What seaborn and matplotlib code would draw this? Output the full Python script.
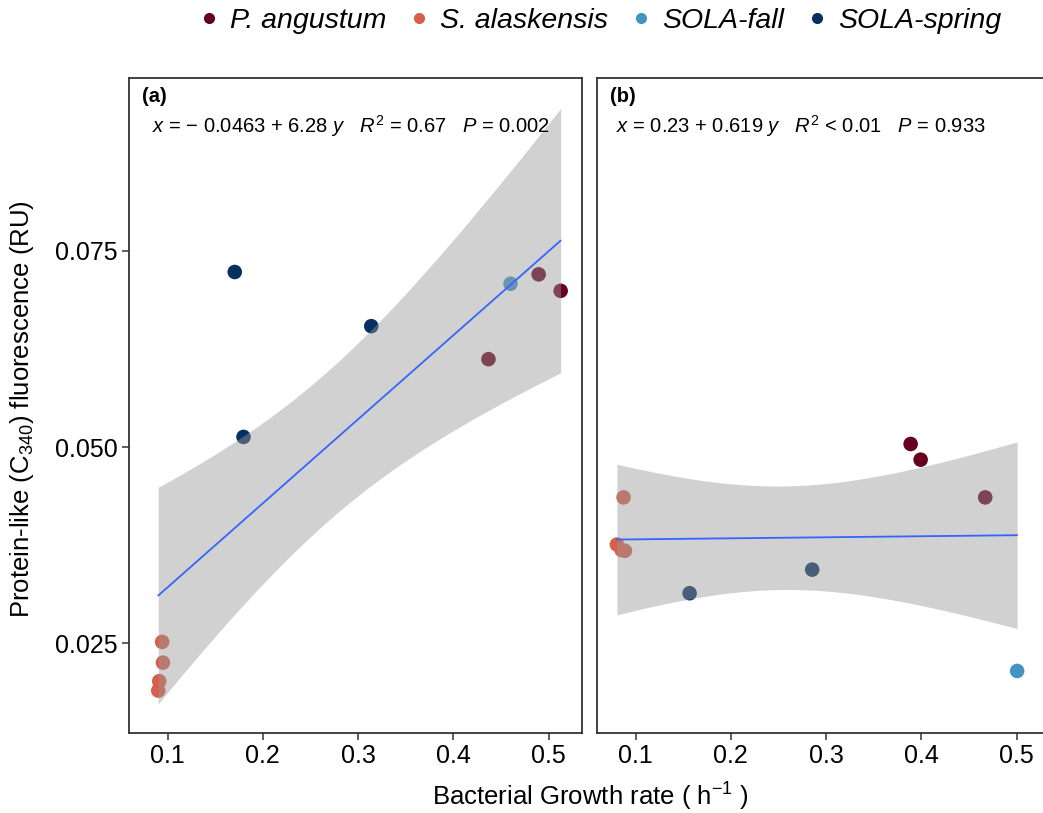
import numpy as np
import pandas as pd
import matplotlib
matplotlib.use("Agg")
import matplotlib.pyplot as plt
from matplotlib.lines import Line2D
import seaborn as sns

# ---------------- data ----------------
groups = ["P. angustum", "S. alaskensis", "SOLA-fall", "SOLA-spring"]
group_colors = ["#67001F", "#D6604D", "#4393C3", "#053061"]

a_group = ["P. angustum", "P. angustum", "P. angustum",
           "S. alaskensis", "S. alaskensis", "S. alaskensis", "S. alaskensis",
           "SOLA-fall",
           "SOLA-spring", "SOLA-spring", "SOLA-spring"]
a_rate = [0.4368, 0.4895, 0.5126,
          0.0943, 0.0951, 0.0912, 0.0902,
          0.4600,
          0.1705, 0.3138, 0.1797]
a_fluor = [0.0612, 0.0720, 0.0699,
           0.0252, 0.02256, 0.0202, 0.0190,
           0.0708,
           0.0723, 0.0654, 0.0513]

b_group = ["P. angustum", "P. angustum", "P. angustum",
           "S. alaskensis", "S. alaskensis", "S. alaskensis", "S. alaskensis",
           "SOLA-spring", "SOLA-spring",
           "SOLA-fall"]
b_rate = [0.3887, 0.3992, 0.4670,
          0.0874, 0.0804, 0.0853, 0.0888,
          0.1567, 0.2854,
          0.5005]
b_fluor = [0.0504, 0.0484, 0.0436,
           0.0436, 0.0376, 0.0369, 0.0368,
           0.0314, 0.0344,
           0.0215]

panel_tags = ["(a)", "(b)"]
panel_eqs = [r"$x$ = − 0.0463 + 6.28 $y$   $R^2$ = 0.67   $P$ = 0.002",
             r"$x$ = 0.23 + 0.619 $y$   $R^2$ < 0.01   $P$ = 0.933"]
x_ticks = [0.1, 0.2, 0.3, 0.4, 0.5]
x_ticklabels = ["0.1", "0.2", "0.3", "0.4", "0.5"]
y_ticks = [0.025, 0.050, 0.075]
y_ticklabels = ["0.025", "0.050", "0.075"]
x_label = r"Bacterial Growth rate ( h$^{-1}$ )"
y_label = r"Protein-like (C$_{340}$) fluorescence (RU)"

# ---------------- style ----------------
sns.set_theme(style="white")
plt.rcParams["font.family"] = ["Liberation Sans", "DejaVu Sans"]
plt.rcParams["text.color"] = "black"
plt.rcParams["mathtext.fontset"] = "custom"
plt.rcParams["mathtext.rm"] = "Liberation Sans"
plt.rcParams["mathtext.it"] = "Liberation Sans:italic"
plt.rcParams["mathtext.bf"] = "Liberation Sans:bold"

palette = dict(zip(groups, group_colors))

W, H = 1043, 813
fig = plt.figure(figsize=(W / 100, H / 100), dpi=100)
pw, ph = 453, 655
ax_a = fig.add_axes([129 / W, (H - 733) / H, pw / W, ph / H])
ax_b = fig.add_axes([597 / W, (H - 733) / H, pw / W, ph / H])

try:
    from scipy import stats
    def tcrit(df):
        return stats.t.ppf(0.975, df)
except Exception:
    _t = {8: 2.306, 9: 2.262, 10: 2.228}
    def tcrit(df):
        return _t.get(df, 2.262)


def lm_band(x, y, n=80):
    x = np.asarray(x, float)
    y = np.asarray(y, float)
    nn = len(x)
    slope, icpt = np.polyfit(x, y, 1)
    xs = np.linspace(x.min(), x.max(), n)
    yhat = icpt + slope * xs
    res = y - (icpt + slope * x)
    s2 = np.sum(res ** 2) / (nn - 2)
    sxx = np.sum((x - x.mean()) ** 2)
    se = np.sqrt(s2 * (1.0 / nn + (xs - x.mean()) ** 2 / sxx))
    t = tcrit(nn - 2)
    return xs, yhat, yhat - t * se, yhat + t * se


for ax, grp, xr, yf, tag, eq, eqx in [
        (ax_a, a_group, a_rate, a_fluor, panel_tags[0], panel_eqs[0], 0.050),
        (ax_b, b_group, b_rate, b_fluor, panel_tags[1], panel_eqs[1], 0.043)]:
    df = pd.DataFrame({"group": grp, "rate": xr, "fluor": yf})
    sns.scatterplot(data=df, x="rate", y="fluor", hue="group", hue_order=groups,
                    palette=palette, s=110, alpha=1.0, linewidth=0, ax=ax,
                    legend=False, zorder=1)
    xs, yhat, lo, hi = lm_band(xr, yf)
    ax.fill_between(xs, lo, hi, color="#999999", alpha=0.45, linewidth=0, zorder=2)
    sns.lineplot(x=xs, y=yhat, ax=ax, color="#3366FF", linewidth=1.3, zorder=3)
    ax.set_xlim(0.0595, 0.535)
    ax.set_ylim(0.0136, 0.0970)
    ax.set_xticks(x_ticks)
    ax.set_xticklabels(x_ticklabels)
    ax.set_xlabel("")
    ax.set_ylabel("")
    for sp in ax.spines.values():
        sp.set_visible(True)
        sp.set_color("#333333")
        sp.set_linewidth(1.3)
        sp.set_zorder(5)
    ax.tick_params(axis="both", which="both", direction="out", length=5, width=1.1,
                   color="#333333", labelsize=18, labelcolor="black", pad=3,
                   bottom=True, left=True)
    ax.text(0.028, 0.9725, tag, transform=ax.transAxes, fontsize=14.5,
            fontweight="bold", ha="left", va="center")
    ax.text(eqx, 0.926, eq, transform=ax.transAxes, fontsize=14.5,
            ha="left", va="center")

ax_a.set_yticks(y_ticks)
ax_a.set_yticklabels(y_ticklabels)
ax_b.set_yticks(y_ticks)
ax_b.tick_params(axis="y", left=False, labelleft=False)

fig.text(22 / W, 1 - 409 / H, y_label, rotation=90, ha="center", va="center",
         fontsize=18.5)
fig.text(590 / W, 1 - 797 / H, x_label, ha="center", va="center", fontsize=18.5)

handles = [Line2D([0], [0], marker="o", linestyle="", markersize=8,
                  markerfacecolor=c, markeredgewidth=0, label=g)
           for g, c in zip(groups, group_colors)]
leg = fig.legend(handles=handles, loc="center", bbox_to_anchor=(601 / W, 1 - 21 / H),
                 ncol=4, frameon=False, fontsize=20.5, handlelength=0.6,
                 handletextpad=0.45, columnspacing=0.85)
for t in leg.get_texts():
    t.set_fontstyle("italic")
    t.set_color("black")

fig.savefig("out.png", dpi=100)
